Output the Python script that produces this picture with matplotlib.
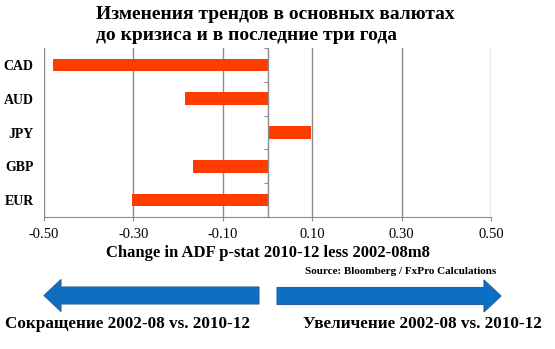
import matplotlib
matplotlib.use("Agg")
import matplotlib.pyplot as plt
from matplotlib.patches import FancyArrow

# data
currencies = ["EUR", "GBP", "JPY", "AUD", "CAD"]
changes = [-0.303, -0.167, 0.098, -0.184, -0.479]
xticks = [-0.5, -0.3, -0.1, 0.1, 0.3, 0.5]
xtick_labels = ["-0.50", "-0.30", "-0.10", "0.10", "0.30", "0.50"]

title = "Изменения трендов в основных валютах\nдо кризиса и в последние три года"
xlabel = "Change in ADF p-stat 2010-12 less 2002-08m8"
source = "Source: Bloomberg / FxPro Calculations"
left_note = "Сокращение 2002-08 vs. 2010-12"
right_note = "Увеличение 2002-08 vs. 2010-12"

W, H = 555, 349
plt.rcParams["font.family"] = ["Liberation Serif", "DejaVu Serif"]
grey = "#8c8c8c"

fig = plt.figure(figsize=(W / 100, H / 100), dpi=100)
ax = fig.add_axes([44 / W, 1 - 217 / H, 447 / W, 169 / H])

ypos = list(range(len(currencies)))
ax.barh(ypos, changes, height=0.37, color="#ff3c00", zorder=3)

ax.set_xlim(-0.5, 0.5)
ax.set_ylim(-0.5, len(currencies) - 0.5)
ax.set_xticks(xticks, xtick_labels)
ax.set_yticks(ypos, currencies)
ax.grid(axis="x", color=grey, lw=1, zorder=0)
for s in ["top", "right", "left"]:
    ax.spines[s].set_visible(False)
ax.spines["bottom"].set_color(grey)
ax.tick_params(axis="x", color=grey, length=3, labelsize=10.5, pad=5)
ax.tick_params(axis="y", length=0, pad=7.5)
for lab in ax.get_yticklabels():
    lab.set_fontweight("bold")
    lab.set_fontsize(10)
ax.set_xlabel(xlabel, fontsize=12, fontweight="bold", labelpad=3)

# vertical category axis at zero
ax.axvline(0, color=grey, lw=1, zorder=4)
zero_ax = ax.secondary_yaxis(0.5)
zero_ax.set_yticks([i - 0.5 for i in range(len(currencies) + 1)], [])
for sp in zero_ax.spines.values():
    sp.set_visible(False)
zero_ax.tick_params(direction="in", length=3, color=grey)

fig.text(96 / W, 1 - 6 / H, title, ha="left", va="top", fontsize=14,
         fontweight="bold", linespacing=1.3)
fig.text(496 / W, 1 - 272 / H, source, ha="right", va="center",
         fontsize=8, fontweight="bold")

# arrows in pixel coordinates
ov = fig.add_axes([0, 0, 1, 1])
ov.set_xlim(0, W)
ov.set_ylim(H, 0)
ov.axis("off")
blue = "#0d6fc2"
ov.add_patch(FancyArrow(259, 295.5, -215, 0, width=17, head_width=32,
                        head_length=17, length_includes_head=True,
                        fc=blue, ec="#2b5f9e", lw=0.8))
ov.add_patch(FancyArrow(277, 296, 224, 0, width=17, head_width=32,
                        head_length=17, length_includes_head=True,
                        fc=blue, ec="#2b5f9e", lw=0.8))
ov.text(5, 324, left_note, ha="left", va="center", fontsize=12.3, fontweight="bold")
ov.text(542, 324, right_note, ha="right", va="center", fontsize=12.3, fontweight="bold")

fig.savefig("out.png", dpi=100)
